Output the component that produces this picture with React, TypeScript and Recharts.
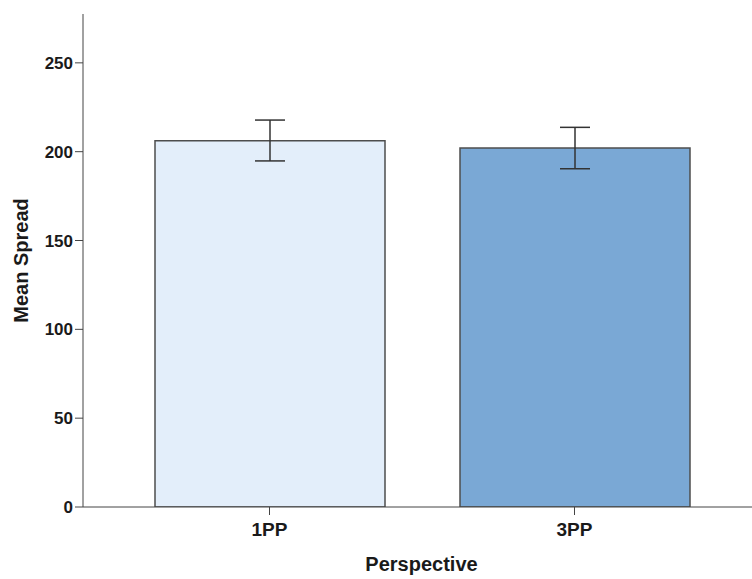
import { BarChart, Bar, XAxis, YAxis, Cell, ErrorBar, Label } from "recharts";

// Mean spread by perspective, with 95% CI
const perspectives = ["1PP", "3PP"];
const meanSpread = [206.2, 202.1];
const ciLower = [194.8, 190.4];
const ciUpper = [217.8, 213.7];
const barColors = ["#E3EEFA", "#7AA8D5"];
const yTicks = [0, 50, 100, 150, 200, 250];

const data = perspectives.map((p, i) => ({
  perspective: p,
  mean: meanSpread[i],
  ci: [meanSpread[i] - ciLower[i], ciUpper[i] - meanSpread[i]],
}));

const font = "'Liberation Sans', Arial, sans-serif";
const tickStyle = { fill: "#1a1a1a", fontSize: 17, fontWeight: 700, fontFamily: font };
const titleStyle = { fill: "#1a1a1a", fontSize: 20, fontWeight: 700, fontFamily: font };

export default function App() {
  return (
    <div style={{ position: "absolute", left: 0, top: 0, background: "#fff" }}>
      <BarChart
        width={752}
        height={579}
        data={data}
        margin={{ top: 14, right: 0, bottom: 32, left: 0 }}
      >
        <XAxis
          dataKey="perspective"
          height={40}
          padding={{ left: 34, right: 25 }}
          stroke="#444"
          tickSize={8}
          tick={{ ...tickStyle, fontSize: 19 }}
          tickMargin={8}
        >
          <Label value="Perspective" position="insideBottom" offset={-24} dx={4} style={titleStyle} />
        </XAxis>
        <YAxis
          width={83}
          domain={[0, 277.5]}
          ticks={yTicks}
          allowDataOverflow
          stroke="#444"
          tickSize={8}
          tick={tickStyle}
          tickMargin={2}
        >
          <Label
            value="Mean Spread"
            angle={-90}
            position="insideLeft"
            offset={21}
            style={{ ...titleStyle, textAnchor: "middle" }}
          />
        </YAxis>
        <Bar dataKey="mean" barSize={230} stroke="#4d4d4d" strokeWidth={1.5} isAnimationActive={false}>
          {data.map((d, i) => (
            <Cell key={d.perspective} fill={barColors[i]} />
          ))}
          <ErrorBar dataKey="ci" width={15} stroke="#333" strokeWidth={1.5} isAnimationActive={false} />
        </Bar>
      </BarChart>
    </div>
  );
}
